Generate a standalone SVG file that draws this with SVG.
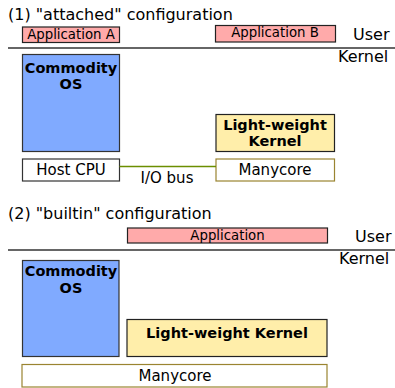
<svg xmlns="http://www.w3.org/2000/svg" width="395" height="388" viewBox="0 0 395 388">
<style>
text{font-family:"DejaVu Sans",sans-serif;fill:#000}
.t{font-size:16px}
.app{fill:#ffaaaa;stroke:#222;stroke-width:1.2}
.os{fill:#80aaff;stroke:#333;stroke-width:1.2}
.lwk{fill:#ffeeaa;stroke:#222;stroke-width:1.2}
.cpu{fill:#fff;stroke:#333;stroke-width:1.2}
.mc{fill:#fff;stroke:#9a8430;stroke-width:1.2}
.al{font-size:13.3px;text-anchor:middle}
.bl{font-size:14.5px;font-weight:bold;text-anchor:middle}
.hl{font-size:15px;text-anchor:middle}
.sep{stroke:#333;stroke-width:1.6}
</style>
<text class="t" x="8" y="20">(1) "attached" configuration</text>
<text class="t" x="353" y="40">User</text>
<text class="t" x="338" y="62">Kernel</text>
<line class="sep" x1="8" y1="48" x2="395" y2="48"/>
<g id="appA"><rect class="app" x="22.5" y="27" width="97" height="15.5"/><text class="al" x="71" y="39">Application A</text></g>
<g id="appB"><rect class="app" x="215.5" y="25.5" width="120" height="16.5"/><text class="al" x="275" y="37">Application B</text></g>
<g id="os1"><rect class="os" x="22.5" y="54.5" width="97" height="97"/><text class="bl" x="71" y="73">Commodity</text><text class="bl" x="71" y="89">OS</text></g>
<g id="lwk1"><rect class="lwk" x="216" y="114.5" width="118.5" height="37"/><text class="bl" x="275" y="130">Light-weight</text><text class="bl" x="275" y="146">Kernel</text></g>
<g id="cpu"><rect class="cpu" x="22.5" y="159" width="97" height="22"/><text class="hl" x="71" y="175">Host CPU</text></g>
<g id="mc1"><rect class="mc" x="216" y="159" width="118.5" height="22"/><text class="hl" x="275" y="175">Manycore</text></g>
<g id="connectors"><line x1="119.5" y1="166.5" x2="216" y2="166.5" stroke="#6b8e00" stroke-width="1.6"/></g>
<text class="hl" x="167" y="183">I/O bus</text>
<text class="t" x="8" y="219">(2) "builtin" configuration</text>
<text class="t" x="355" y="242">User</text>
<text class="t" x="339" y="264">Kernel</text>
<line class="sep" x1="8" y1="250" x2="395" y2="250"/>
<g id="app2"><rect class="app" x="127.5" y="228" width="200" height="15"/><text class="al" x="227.5" y="240">Application</text></g>
<g id="os2"><rect class="os" x="22.5" y="260.5" width="96.5" height="96"/><text class="bl" x="71" y="276">Commodity</text><text class="bl" x="71" y="293">OS</text></g>
<g id="lwk2"><rect class="lwk" x="127" y="319.5" width="200" height="37"/><text class="bl" x="227" y="338">Light-weight Kernel</text></g>
<g id="mc2"><rect class="mc" x="22" y="364.5" width="305" height="22.5"/><text class="hl" x="175" y="381">Manycore</text></g>
</svg>
